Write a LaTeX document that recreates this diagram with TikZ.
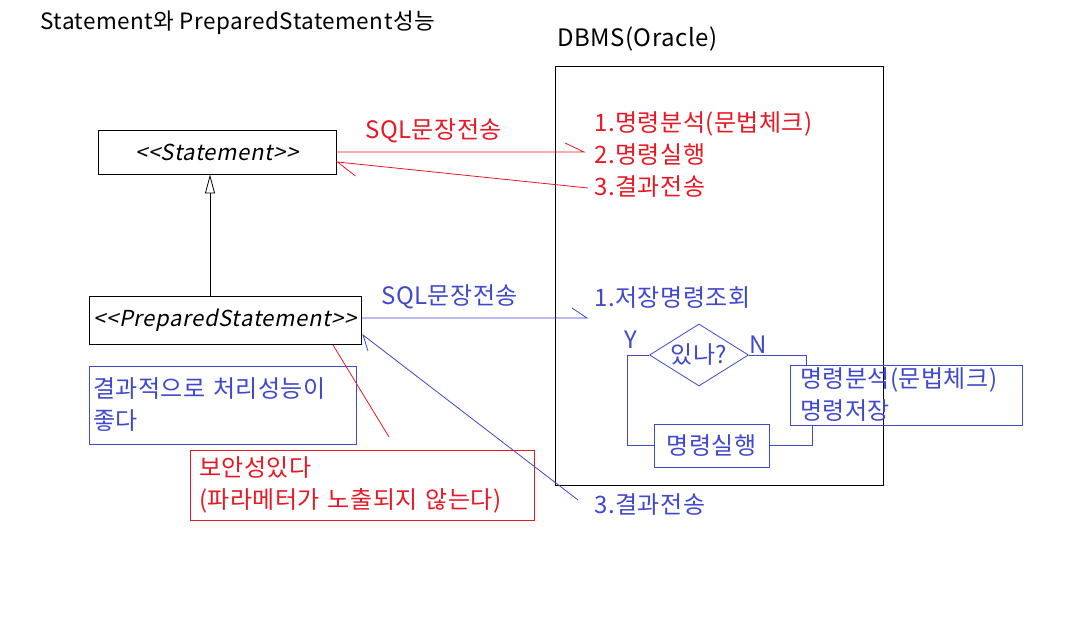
\documentclass[tikz,border=0pt]{standalone}
\usepackage{fontspec}
\setmainfont[LetterSpace=2]{Noto Sans CJK KR}
\newfontfamily\slfont[FakeSlant=0.2,LetterSpace=3]{Noto Sans CJK KR}
\usetikzlibrary{shapes.geometric,arrows.meta,calc}
\definecolor{cred}{RGB}{232,24,36}
\definecolor{cblue}{RGB}{64,72,204}
\tikzset{
  txt/.style={font=\fontsize{24}{32}\selectfont, inner sep=0pt},
  lbl/.style={txt, anchor=base west},
  umlbox/.style={draw=black, font=\fontsize{22}{32}\selectfont, inner sep=0pt, line width=0.9pt},
  notebox/.style={txt, align=left, line width=0.9pt},
}
\begin{document}
\begin{tikzpicture}[x=1pt,y=-1pt, line width=0.8pt]
\useasboundingbox (0,0) rectangle (1072,620);
\fill[white] (0,0) rectangle (1072,620);

% title and DBMS
\node[lbl, font=\fontsize{22.5}{30}\selectfont] (title) at (40,30) {Statement와 PreparedStatement성능};
\node[lbl] (dbmsl) at (557,47) {DBMS(Oracle)};
\node[draw=black, line width=0.9pt, minimum width=328pt, minimum height=419pt, inner sep=0pt] (dbms) at (719,275.5) {};

% UML boxes
\node[umlbox, minimum width=238pt, minimum height=44pt] (stmt) at (217,152) {\slfont <<Statement>>};
\node[umlbox, minimum width=272pt, minimum height=48pt] (prep) at (225,320) {\slfont <<PreparedStatement>>};
\draw[black, -{Triangle[open,width=10pt,length=19pt]}] ($(prep.north)+(-15,0)$) -- ($(stmt.south)+(-7,0)$);

% red part
\node[lbl, text=cred] (sqlr) at (365,139) {SQL문장전송};
\node[lbl, text=cred] (r1) at (594,132) {1.명령분석(문법체크)};
\node[lbl, text=cred] (r2) at (594,164) {2.명령실행};
\node[lbl, text=cred] (r3) at (594,196) {3.결과전송};
\coordinate (rfe) at (584,152);
\draw[cred] (stmt.east) -- (rfe) -- ++(-19,-9);
\coordinate (rbs) at (588,188);
\coordinate (rbe) at ($(stmt.east)+(1,10)$);
\draw[cred] (rbs) -- (rbe) -- ++(18,14);

% blue part
\node[lbl, text=cblue] (sqlb) at (381,305) {SQL문장전송};
\node[lbl, text=cblue] (b1) at (594,307) {1.저장명령조회};
\node[lbl, text=cblue] (b3) at (594,514) {3.결과전송};
\coordinate (bfe) at (587,318);
\draw[cblue] (prep.east |- bfe) -- (bfe) -- ++(-15,-10);
\coordinate (bbs) at (578,500);
\coordinate (bbe) at (363,335);
\draw[cblue] (bbs) -- (bbe) -- ++(5,16);

% notes
\node[notebox, draw=cblue, text=cblue, minimum width=267pt, minimum height=78pt, text width=259pt, inner xsep=4pt] (note1) at (222.5,405) {결과적으로 처리성능이\\좋다};
\node[notebox, draw=cred, text=cred, minimum width=344pt, minimum height=70pt, text width=326pt, inner xsep=9pt] (note2) at (362,485) {보안성있다\\(파라메터가 노출되지 않는다)};
\coordinate (n2a) at (333,345);
\coordinate (n2b) at (389,437);
\draw[cred] (n2a) -- (n2b);

% flowchart
\node[diamond, draw=cblue, line width=0.8pt, minimum width=99pt, minimum height=62pt, inner sep=0pt] (dia) at (699,355) {};
\node[txt, text=cblue] (diat) at (dia) {있나?};
\node[txt, text=cblue] (ylab) at (631,340) {Y};
\node[txt, text=cblue] (nlab) at (758,345) {N};
\node[draw=cblue, text=cblue, txt, line width=0.8pt, minimum width=115pt, minimum height=43pt] (exec) at (711.5,445.5) {명령실행};
\node[notebox, draw=cblue, text=cblue, line width=0.8pt, minimum width=232pt, minimum height=60pt, text width=212pt, inner xsep=10pt] (ana) at (906,395) {명령분석(문법체크)\\명령저장};
\coordinate (yl) at (627,355);
\draw[cblue] (dia.west) -- (yl) |- (exec.west);
\coordinate (nr) at (806,355);
\draw[cblue] (dia.east) -- (nr) -- (nr |- ana.north);
\coordinate (ab) at ($(ana.south west)+(23,0)$);
\draw[cblue] (ab) |- (exec.east);
\end{tikzpicture}
\end{document}
